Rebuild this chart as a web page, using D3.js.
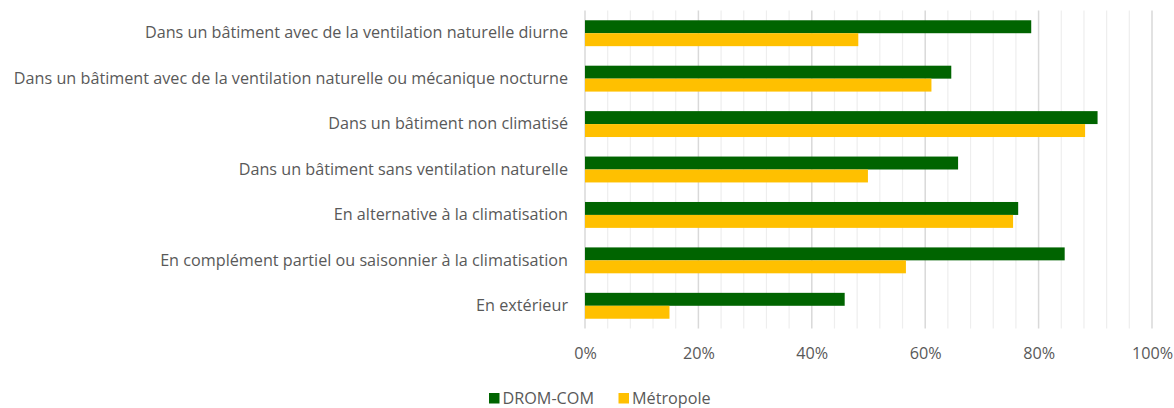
<!DOCTYPE html>
<html><head><meta charset="utf-8">
<script src="https://cdn.jsdelivr.net/npm/d3@7"></script>
<style>body{margin:0;background:#fff}svg{display:block}</style>
</head><body><svg id="c" width="1174" height="408"></svg>
<script>
const categories = [
  "Dans un bâtiment avec de la ventilation naturelle diurne",
  "Dans un bâtiment avec de la ventilation naturelle ou mécanique nocturne",
  "Dans un bâtiment non climatisé",
  "Dans un bâtiment sans ventilation naturelle",
  "En alternative à la climatisation",
  "En complément partiel ou saisonnier à la climatisation",
  "En extérieur"
];
const seriesNames = ["DROM-COM", "Métropole"];
const dromCom = [0.787, 0.646, 0.904, 0.658, 0.764, 0.846, 0.458];
const metropole = [0.482, 0.611, 0.882, 0.499, 0.755, 0.566, 0.149];
const tickValues = [0, 0.2, 0.4, 0.6, 0.8, 1.0];
const colors = ["#006400", "#FFC000"];

(function () {
const svg = d3.select("#c");
const font = "'Open Sans', sans-serif";
const fs = 16.2;
const pLeft = 585, pRight = 1152, pTop = 10.5, pBottom = 328.5;

const x = d3.scaleLinear().domain([0, 1]).range([pLeft, pRight]);
const y = d3.scaleBand().domain(categories).range([pTop, pBottom]).paddingInner(0.43).paddingOuter(0.215);
const ySub = d3.scaleBand().domain(seriesNames).range([0, y.bandwidth()]);

const minor = d3.range(0, 1.0001, 0.04).filter(v => Math.round(v*100) % 20 !== 0);
svg.append("g").selectAll("line").data(minor).join("line")
  .attr("x1", d => x(d)).attr("x2", d => x(d)).attr("y1", pTop).attr("y2", pBottom)
  .attr("stroke", "#eeeeee").attr("stroke-width", 1.2);
svg.append("g").selectAll("line").data(tickValues).join("line")
  .attr("x1", d => x(d)).attr("x2", d => x(d)).attr("y1", pTop).attr("y2", pBottom)
  .attr("stroke", "#d9d9d9").attr("stroke-width", 1.5);

const data = [dromCom, metropole];
seriesNames.forEach((s, si) => {
  svg.append("g").selectAll("rect").data(categories).join("rect")
    .attr("x", x(0))
    .attr("y", d => y(d) + ySub(s))
    .attr("width", (d, i) => x(data[si][i]) - x(0))
    .attr("height", ySub.bandwidth())
    .attr("fill", colors[si]);
});

const xAxis = d3.axisBottom(x).tickValues(tickValues).tickFormat(d3.format(".0%")).tickSize(0);
const gx = svg.append("g").attr("transform", `translate(0,${pBottom + 16})`).call(xAxis);
gx.select(".domain").remove();
gx.selectAll("text").attr("font-family", font).attr("font-size", fs).attr("fill", "#595959");

const yAxis = d3.axisLeft(y).tickSize(0).tickPadding(17);
const gy = svg.append("g").attr("transform", `translate(${pLeft},0)`).call(yAxis);
gy.select(".domain").remove();
gy.selectAll("text").attr("font-family", font).attr("font-size", fs).attr("fill", "#595959");

const legend = svg.append("g");
const legX = [489, 618.5];
seriesNames.forEach((s, i) => {
  legend.append("rect").attr("x", legX[i]).attr("y", 393).attr("width", 10.5).attr("height", 10.5).attr("fill", colors[i]);
  legend.append("text").attr("x", legX[i] + 13.5).attr("y", 403.5).text(s)
    .attr("font-family", font).attr("font-size", fs).attr("fill", "#595959");
});
})();
</script></body></html>
